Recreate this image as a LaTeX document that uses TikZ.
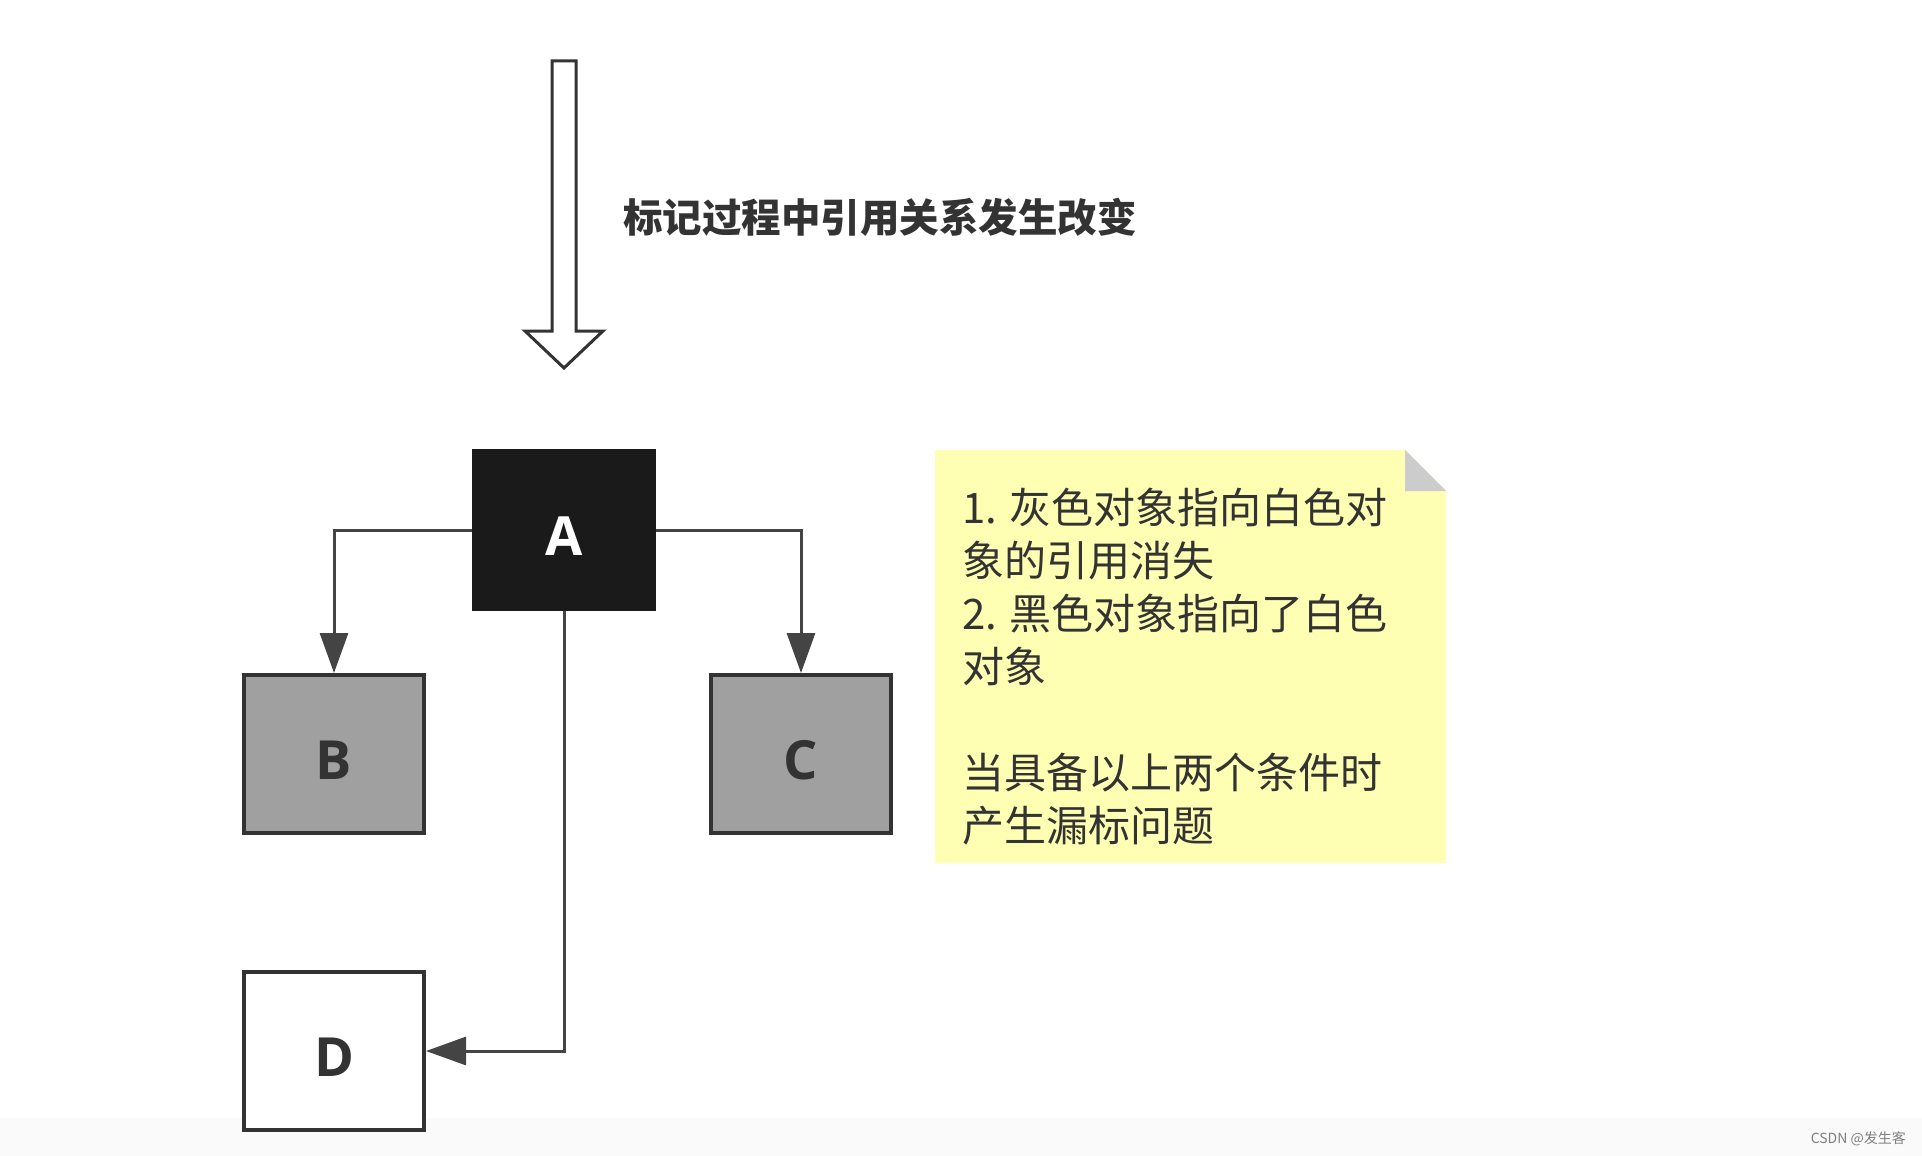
\documentclass[tikz,border=0pt]{standalone}
\usepackage{fontspec}
\setmainfont{Open Sans}
\newfontfamily\cjk{Noto Sans CJK SC}
\usetikzlibrary{arrows.meta}
\definecolor{objline}{HTML}{333333}
\definecolor{refline}{HTML}{444444}
\definecolor{blackobj}{HTML}{1A1A1A}
\definecolor{grayobj}{HTML}{A0A0A0}
\definecolor{notefill}{HTML}{FFFFB3}
\definecolor{notefold}{HTML}{CCCCCC}
\definecolor{bottomband}{HTML}{FAFAFA}
\tikzset{
  obj/.style={draw=objline, line width=4pt, minimum width=180pt, minimum height=158pt,
    inner sep=0pt, text height=51pt, text depth=0pt, text=objline,
    font=\fontsize{54}{64}\selectfont\bfseries},
  ref/.style={draw=refline, line width=3pt, -{Triangle[length=40pt,width=28pt]}},
}
\begin{document}
\begin{tikzpicture}[x=1pt,y=-1pt]
  \useasboundingbox (0,0) rectangle (1922,1156);
  \fill[bottomband] (0,1118) rectangle (1922,1156);
  % hollow arrow and its caption
  \draw[objline, line width=3pt, fill=white, line join=miter]
    (552,61) -- (576,61) -- (576,331) -- (603,331) -- (564,368) -- (525,331) -- (552,331) -- cycle;
  \node[anchor=west, inner sep=0pt, text=objline, font=\cjk\bfseries\fontsize{39.5}{45}\selectfont]
    (caption) at (623,217) {标记过程中引用关系发生改变};
  % objects
  \node[obj, fill=blackobj, draw=blackobj, text=white] (A) at (564,530) {A};
  \node[obj, fill=grayobj] (B) at (334,754) {B};
  \node[obj, fill=grayobj] (C) at (801,754) {C};
  \node[obj, fill=white] (D) at (334,1051) {D};
  \draw[ref] (A.west) -| (B.north);
  \draw[ref] (A.east) -| (C.north);
  \draw[ref] (A.south) |- (D.east);
  % note
  \fill[notefill] (935,450) -- (1405,450) -- (1446,491) -- (1446,863) -- (935,863) -- cycle;
  \fill[notefold] (1405,450) -- (1405,491) -- (1446,491) -- cycle;
  \node[anchor=north west, inner sep=0pt, align=left, text=objline,
    font=\cjk\fontsize{42}{53}\selectfont] (notetext) at (962,488)
    {1. 灰色对象指向白色对\\象的引用消失\\2. 黑色对象指向了白色\\对象\\[53pt]当具备以上两个条件时\\产生漏标问题};
  \node[anchor=east, inner sep=0pt, text=gray, font=\cjk\fontsize{14}{16}\selectfont]
    (mark) at (1906,1139) {CSDN @发生客};
\end{tikzpicture}
\end{document}
